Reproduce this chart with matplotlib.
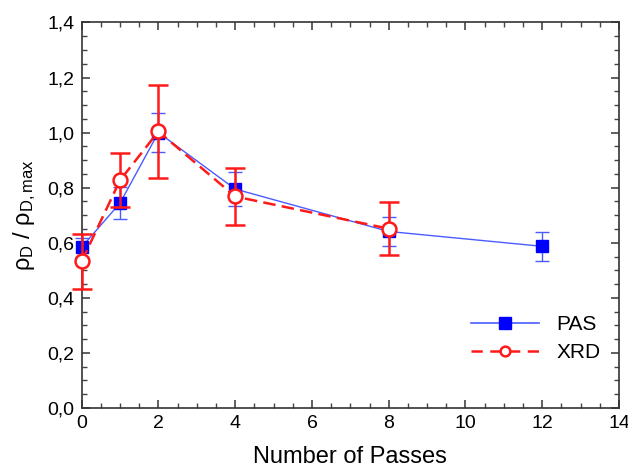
import matplotlib
matplotlib.use("Agg")
import matplotlib.pyplot as plt
from matplotlib.ticker import MultipleLocator, FuncFormatter
from matplotlib.lines import Line2D

plt.rcParams['font.family'] = ['Liberation Sans', 'DejaVu Sans']
plt.rcParams['mathtext.fontset'] = 'custom'
plt.rcParams['mathtext.rm'] = 'Liberation Sans'
plt.rcParams['mathtext.it'] = 'Liberation Sans:italic'

# data
pas_x = [0, 1, 2, 4, 8, 12]
pas_y = [0.584, 0.744, 1.0, 0.795, 0.641, 0.587]
pas_err = [0.035, 0.057, 0.07, 0.063, 0.053, 0.053]

xrd_x = [0, 1, 2, 4, 8]
xrd_y = [0.532, 0.827, 1.004, 0.768, 0.651]
xrd_err = [0.10, 0.098, 0.168, 0.105, 0.096]

pas_col = '#4a5cff'
xrd_col = '#ff1a1a'

fig = plt.figure(figsize=(6.28, 4.67), dpi=100)
ax = fig.add_axes([0.130, 0.1263, 0.8557, 0.8257])

e1 = ax.errorbar(pas_x, pas_y, yerr=pas_err, color=pas_col, lw=1.0,
                 marker='s', ms=9, mfc='#0000ff', mec='#0000ff',
                 ecolor=pas_col, elinewidth=1.0, capsize=5, capthick=1.0,
                 zorder=3)
e2 = ax.errorbar(xrd_x, xrd_y, yerr=xrd_err, color=xrd_col, lw=1.8,
                 ls=(0, (5, 2.5)), marker='o', ms=10, mfc='white', mec=xrd_col,
                 mew=1.8, ecolor=xrd_col, elinewidth=1.8, capsize=7, capthick=1.8,
                 zorder=4)
for e in (e1, e2):
    e[0].set_clip_on(False)
    for c in e[1]:
        c.set_clip_on(False)
    for b in e[2]:
        b.set_clip_on(False)

ax.set_xlim(0, 14)
ax.set_ylim(0, 1.4)
ax.xaxis.set_major_locator(MultipleLocator(2))
ax.xaxis.set_minor_locator(MultipleLocator(0.5))
ax.yaxis.set_major_locator(MultipleLocator(0.2))
ax.yaxis.set_minor_locator(MultipleLocator(0.05))
ax.yaxis.set_major_formatter(FuncFormatter(lambda v, p: f"{v:.1f}".replace('.', ',')))
ax.tick_params(which='both', direction='in', top=True, right=True, labelsize=14,
               color='#444444')
ax.tick_params(which='major', length=6, width=1.2, pad=5)
ax.tick_params(which='minor', length=3.5, width=1.0)
for s in ax.spines.values():
    s.set_linewidth(1.2)
    s.set_color('#333333')

ax.set_xlabel('Number of Passes', fontsize=17, labelpad=10)
ax.set_ylabel(r'ρ$_\mathregular{D}$ / ρ$_\mathregular{D,max}$', fontsize=17, labelpad=7)

handles = [
    Line2D([], [], color=pas_col, lw=1.2, marker='s', ms=8, mfc='#0000ff', mec='#0000ff'),
    Line2D([], [], color=xrd_col, lw=1.8, ls=(0, (4.5, 3)), marker='o', ms=7,
           mfc='white', mec=xrd_col, mew=1.8),
]
ax.legend(handles, ['PAS', 'XRD'], loc='lower right', bbox_to_anchor=(1.0, 0.07),
          frameon=False, fontsize=15, handlelength=3.3, handletextpad=0.8,
          labelspacing=0.45)

fig.savefig('out.png', dpi=100)
